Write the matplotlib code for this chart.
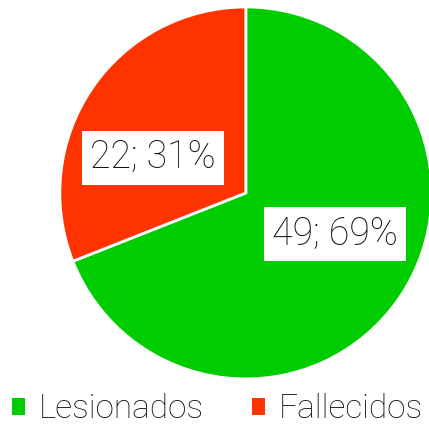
import matplotlib
matplotlib.use('Agg')
import matplotlib.pyplot as plt
from matplotlib.patches import Patch

categories = ['Lesionados', 'Fallecidos']
values = [49, 22]
colors = ['#00cc00', '#ff3300']
label_pos = [(0.48, -0.22), (-0.50, 0.19)]

plt.rcParams['font.family'] = ['Roboto', 'DejaVu Sans']

fig = plt.figure(figsize=(4.29, 4.25), dpi=100)
ax = fig.add_axes([0.573 - 0.4336, 0.546 - 0.4376, 0.8672, 0.8752])

total = sum(values)
ax.pie(values, colors=colors, startangle=90, counterclock=False,
       wedgeprops=dict(edgecolor='white', linewidth=2))
ax.set_xlim(-1, 1)
ax.set_ylim(-1, 1)

for v, (x, y) in zip(values, label_pos):
    ax.text(x, y, '%d; %d%%' % (v, round(100 * v / total)),
            ha='center', va='center', fontsize=27, fontweight='light', color='#111111',
            bbox=dict(facecolor='white', edgecolor='none', pad=6))

handles = [Patch(facecolor=c, edgecolor='none') for c in colors]
leg = fig.legend(handles, categories, loc='lower left', ncol=2, frameon=False,
                 bbox_to_anchor=(0.028, 0.0), prop=dict(size=24, weight='light'),
                 borderpad=0, borderaxespad=0,
                 handlelength=0.4, handleheight=0.4, handletextpad=0.4, columnspacing=1.45)
for t in leg.get_texts():
    t.set_color('#111111')

fig.savefig('out.png', dpi=100)
